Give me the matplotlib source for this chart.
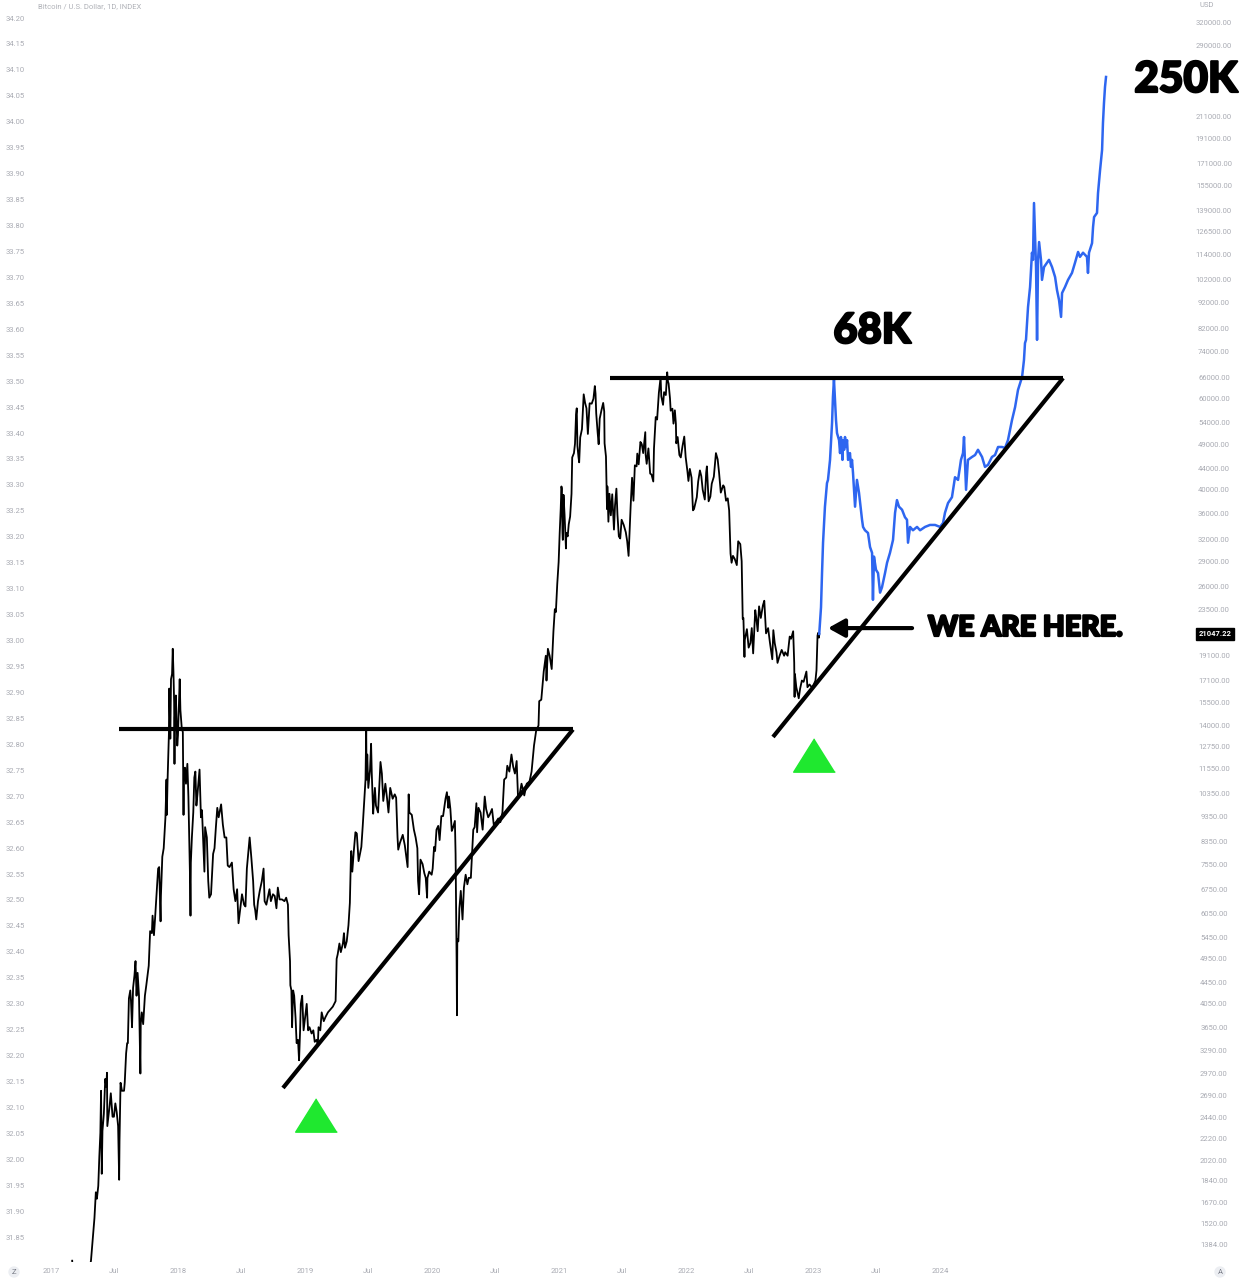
import matplotlib
matplotlib.use("Agg")
import matplotlib.pyplot as plt
import matplotlib.ticker as mticker
import matplotlib.patheffects as pe
import numpy as np
import pandas as pd

# ---------------- data ----------------
BTC_DATES = [
    "2017-03-03","2017-03-04","2017-03-10","2017-03-18","2017-03-25","2017-04-01","2017-04-15","2017-04-26",
    "2017-04-28","2017-05-03","2017-05-06","2017-05-10","2017-05-13","2017-05-17","2017-05-20","2017-05-23",
    "2017-05-25","2017-05-27","2017-05-29","2017-06-02","2017-06-06","2017-06-09","2017-06-11","2017-06-12",
    "2017-06-15","2017-06-18","2017-06-22","2017-06-27","2017-07-01","2017-07-05","2017-07-09","2017-07-13",
    "2017-07-16","2017-07-17","2017-07-20","2017-07-24","2017-07-30","2017-08-01","2017-08-05","2017-08-08",
    "2017-08-10","2017-08-13","2017-08-17","2017-08-19","2017-08-22","2017-08-25","2017-08-29","2017-09-01",
    "2017-09-04","2017-09-07","2017-09-11","2017-09-14","2017-09-15","2017-09-16","2017-09-19","2017-09-23",
    "2017-09-28","2017-10-02","2017-10-09","2017-10-12","2017-10-13","2017-10-18","2017-10-20","2017-10-24",
    "2017-10-27","2017-11-01","2017-11-05","2017-11-08","2017-11-12","2017-11-13","2017-11-17","2017-11-21",
    "2017-11-26","2017-11-29","2017-11-30","2017-12-02","2017-12-06","2017-12-07","2017-12-08","2017-12-10",
    "2017-12-12","2017-12-15","2017-12-17","2017-12-19","2017-12-21","2017-12-22","2017-12-23","2017-12-26",
    "2017-12-30",
    "2018-01-01","2018-01-06","2018-01-08","2018-01-10","2018-01-12","2018-01-15","2018-01-16","2018-01-17",
    "2018-01-18","2018-01-21","2018-01-24","2018-01-28","2018-01-31","2018-02-02","2018-02-05","2018-02-06",
    "2018-02-07","2018-02-10","2018-02-14","2018-02-17","2018-02-20","2018-02-23","2018-02-26","2018-03-04",
    "2018-03-08","2018-03-11","2018-03-15","2018-03-18","2018-03-20","2018-03-25","2018-03-29","2018-04-01",
    "2018-04-06","2018-04-12","2018-04-16","2018-04-20","2018-04-24","2018-04-28","2018-05-05","2018-05-10",
    "2018-05-15","2018-05-20","2018-05-24","2018-05-29","2018-06-05","2018-06-10","2018-06-15","2018-06-20",
    "2018-06-24","2018-06-29","2018-07-04","2018-07-10","2018-07-14","2018-07-18","2018-07-24","2018-07-26",
    "2018-07-31","2018-08-05","2018-08-08","2018-08-11","2018-08-14","2018-08-19","2018-08-24","2018-08-30",
    "2018-09-04","2018-09-07","2018-09-12","2018-09-16","2018-09-21","2018-09-25","2018-10-01","2018-10-06",
    "2018-10-11","2018-10-15","2018-10-20","2018-10-27","2018-11-03","2018-11-08","2018-11-13","2018-11-15",
    "2018-11-19","2018-11-20","2018-11-23","2018-11-25","2018-11-28","2018-12-01","2018-12-05","2018-12-08",
    "2018-12-12","2018-12-15","2018-12-18","2018-12-20","2018-12-24","2018-12-28",
    "2019-01-01","2019-01-06","2019-01-10","2019-01-14","2019-01-20","2019-01-25","2019-01-29","2019-02-03",
    "2019-02-07","2019-02-09","2019-02-14","2019-02-18","2019-02-24","2019-03-01","2019-03-08","2019-03-15",
    "2019-03-22","2019-03-30","2019-04-02","2019-04-05","2019-04-10","2019-04-14","2019-04-20","2019-04-23",
    "2019-04-26","2019-05-01","2019-05-06","2019-05-10","2019-05-13","2019-05-14","2019-05-17","2019-05-21",
    "2019-05-26","2019-05-30","2019-06-04","2019-06-08","2019-06-12","2019-06-16","2019-06-21","2019-06-24",
    "2019-06-26","2019-06-27","2019-06-29","2019-07-02","2019-07-07","2019-07-10","2019-07-12","2019-07-16",
    "2019-07-17","2019-07-21","2019-07-24","2019-07-30","2019-08-03","2019-08-06","2019-08-10","2019-08-14",
    "2019-08-20","2019-08-25","2019-08-29","2019-09-03","2019-09-10","2019-09-16","2019-09-20","2019-09-24",
    "2019-09-26","2019-10-01","2019-10-09","2019-10-15","2019-10-23","2019-10-26","2019-10-28","2019-11-04",
    "2019-11-10","2019-11-15","2019-11-20","2019-11-22","2019-11-25","2019-11-29","2019-12-05","2019-12-10",
    "2019-12-14","2019-12-18","2019-12-19","2019-12-24","2019-12-31",
    "2020-01-03","2020-01-07","2020-01-10","2020-01-14","2020-01-19","2020-01-23","2020-01-28","2020-02-02",
    "2020-02-09","2020-02-13","2020-02-17","2020-02-19","2020-02-23","2020-02-27","2020-03-02","2020-03-07",
    "2020-03-09","2020-03-12","2020-03-13","2020-03-14","2020-03-17","2020-03-20","2020-03-24","2020-03-29",
    "2020-04-02","2020-04-07","2020-04-12","2020-04-16","2020-04-22","2020-04-29","2020-05-03","2020-05-08",
    "2020-05-10","2020-05-14","2020-05-20","2020-05-26","2020-06-01","2020-06-05","2020-06-11","2020-06-15",
    "2020-06-22","2020-06-27","2020-07-03","2020-07-10","2020-07-16","2020-07-22","2020-07-27","2020-08-02",
    "2020-08-05","2020-08-11","2020-08-17","2020-08-22","2020-08-27","2020-09-01","2020-09-05","2020-09-09",
    "2020-09-15","2020-09-23","2020-09-30","2020-10-08","2020-10-14","2020-10-21","2020-10-27","2020-11-03",
    "2020-11-05","2020-11-11","2020-11-18","2020-11-24","2020-11-26","2020-11-30","2020-12-05","2020-12-11",
    "2020-12-16","2020-12-20","2020-12-23","2020-12-27","2020-12-31",
    "2021-01-03","2021-01-06","2021-01-08","2021-01-09","2021-01-11","2021-01-12","2021-01-14","2021-01-17",
    "2021-01-21","2021-01-22","2021-01-26","2021-01-29","2021-02-02","2021-02-06","2021-02-08","2021-02-13",
    "2021-02-16","2021-02-19","2021-02-21","2021-02-23","2021-02-26","2021-02-28","2021-03-03","2021-03-08",
    "2021-03-13","2021-03-17","2021-03-21","2021-03-25","2021-03-30","2021-04-05","2021-04-10","2021-04-14",
    "2021-04-16","2021-04-18","2021-04-22","2021-04-25","2021-04-28","2021-05-03","2021-05-08","2021-05-11",
    "2021-05-12","2021-05-16","2021-05-19","2021-05-20","2021-05-23","2021-05-26","2021-05-30","2021-06-03",
    "2021-06-08","2021-06-11","2021-06-15","2021-06-18","2021-06-22","2021-06-26","2021-06-30","2021-07-06",
    "2021-07-12","2021-07-16","2021-07-20","2021-07-22","2021-07-26","2021-07-30","2021-08-03","2021-08-07",
    "2021-08-12","2021-08-14","2021-08-18","2021-08-23","2021-08-27","2021-08-31","2021-09-06","2021-09-07",
    "2021-09-10","2021-09-15","2021-09-20","2021-09-24","2021-09-29","2021-10-01","2021-10-06","2021-10-10",
    "2021-10-15","2021-10-20","2021-10-22","2021-10-27","2021-10-30","2021-11-04","2021-11-08","2021-11-10",
    "2021-11-12","2021-11-16","2021-11-18","2021-11-23","2021-11-26","2021-11-30","2021-12-03","2021-12-04",
    "2021-12-08","2021-12-13","2021-12-17","2021-12-22","2021-12-27","2021-12-31",
    "2022-01-05","2022-01-08","2022-01-12","2022-01-17","2022-01-21","2022-01-24","2022-01-28","2022-02-01",
    "2022-02-05","2022-02-10","2022-02-14","2022-02-18","2022-02-24","2022-02-28","2022-03-02","2022-03-07",
    "2022-03-12","2022-03-16","2022-03-22","2022-03-28","2022-04-02","2022-04-06","2022-04-11","2022-04-18",
    "2022-04-21","2022-04-26","2022-05-01","2022-05-05","2022-05-09","2022-05-12","2022-05-16","2022-05-21",
    "2022-05-27","2022-05-31","2022-06-06","2022-06-10","2022-06-13","2022-06-15","2022-06-18","2022-06-19",
    "2022-06-25","2022-06-30","2022-07-05","2022-07-09","2022-07-13","2022-07-19","2022-07-22","2022-07-26",
    "2022-07-30","2022-08-04","2022-08-10","2022-08-14","2022-08-19","2022-08-25","2022-08-30","2022-09-06",
    "2022-09-09","2022-09-13","2022-09-18","2022-09-21","2022-09-27","2022-10-03","2022-10-10","2022-10-13",
    "2022-10-20","2022-10-26","2022-10-30","2022-11-05","2022-11-08","2022-11-09","2022-11-10","2022-11-14",
    "2022-11-21","2022-11-25","2022-11-30","2022-12-05","2022-12-13","2022-12-16","2022-12-22","2022-12-30",
    "2023-01-04","2023-01-08","2023-01-11","2023-01-13","2023-01-14","2023-01-16","2023-01-18","2023-01-19",
]
BTC_PRICES = [
    1290,1250,1190,970,930,1080,1180,1290,
    1340,1480,1560,1750,1700,1800,2050,2280,
    2750,1900,2300,2480,2900,2800,2980,2350,
    2450,2550,2720,2450,2450,2600,2500,2350,
    1850,2200,2850,2750,2750,2850,3250,3400,
    3400,4150,4300,4100,3650,4350,4600,4900,
    4200,4650,4200,3250,2970,3700,3900,3700,
    4200,4400,4800,5400,5600,5550,6000,5500,
    5900,6700,7400,7450,5850,6550,7800,8100,
    9300,11000,9400,10900,13500,16500,15500,13200,
    17200,17600,19700,17800,15500,11800,14500,16000,
    12800,
    13400,17200,15000,14400,13800,13600,11100,9400,
    11300,11600,10800,11800,10200,8700,6900,6000,
    7600,8500,9500,11100,11400,9800,10300,11500,
    9300,9600,8200,7300,8900,8500,7000,6500,
    6600,7900,8100,8900,9700,9300,9850,9000,
    8500,8500,7500,7450,7600,6750,6400,6750,
    5800,6200,6600,6300,6250,7400,8200,8500,
    7750,7000,6300,6150,5900,6400,6700,7000,
    7400,6400,6300,6500,6750,6400,6600,6550,
    6200,6800,6450,6450,6400,6500,6300,5500,
    4900,4400,4300,3650,4300,4200,3800,3400,
    3450,3150,3600,4050,4200,3600,
    3800,4050,3600,3650,3550,3600,3420,3450,
    3380,3650,3600,3900,3750,3820,3900,3950,
    4000,4100,4950,5050,5300,5100,5300,5550,
    5200,5350,5750,6350,7800,8000,7300,7950,
    8700,8650,7650,7900,8150,8950,10200,11000,
    13800,11000,12300,10600,11500,12900,11300,9450,
    9700,10600,9800,9500,10800,11900,11300,10000,
    10800,10100,9500,10600,10100,10300,10150,8500,
    8050,8300,8600,8200,7450,10300,9500,9400,
    8800,8500,8100,7000,6600,7700,7550,7250,
    7100,6500,7100,7300,7200,
    7400,8150,8000,8800,8950,8400,9350,9350,
    10100,10400,9700,10200,9650,8750,8900,9150,
    7900,4900,3850,5400,5350,6200,6700,5900,
    6800,7200,6900,7100,7100,8800,8900,9900,
    8700,9700,9500,8800,10200,9650,9300,9400,
    9650,9000,9100,9250,9100,9500,11000,11100,
    11700,11400,12300,11650,11300,11950,10150,10250,
    10800,10250,10800,10900,11400,12800,13650,14000,
    15600,15700,17800,19100,17100,19700,19100,18000,
    21300,23500,23200,26300,29000,
    33000,36800,40600,40200,33000,32000,39100,35800,
    30800,33000,32500,34300,35500,39300,46200,47100,
    49100,55900,57500,48600,46300,45200,50500,52400,
    61200,58900,57500,51300,58800,58700,60000,63500,
    61400,56200,51700,49000,54900,57000,58900,56700,
    49200,46400,36700,40600,34700,39300,35700,39200,
    33500,37300,40200,35800,32500,32200,35000,34200,
    33100,31800,29800,32100,37300,42200,38100,44600,
    44400,47000,44800,49500,49000,47100,51700,46800,
    44900,48100,43000,42800,41500,48100,55300,54700,
    61600,66000,60700,58400,61800,61000,67500,64900,
    64200,60100,56900,57400,53700,57000,53600,49200,
    50600,46700,46200,48600,50700,46300,
    43500,41600,43900,42200,36500,36700,37700,38700,
    41500,43600,42500,40000,38300,43200,44400,38000,
    38800,41100,42400,47100,45800,43200,39500,40800,
    40500,38100,38500,36500,30100,28900,29800,29400,
    28600,31800,31400,29100,22500,22600,19000,20500,
    21500,19800,20200,21600,19300,23400,22600,21300,
    23800,22600,23900,24400,21100,21600,20300,18800,
    21400,20200,19400,18500,19100,19600,19100,19400,
    19100,20800,20600,21300,18500,15900,17600,16600,
    15800,16500,17100,17000,17800,16600,16800,16550,
    16850,17100,17900,19900,20900,21150,20700,21047.22,
]

# projected path (decimal years, USD)
PROJ_T = [
    2023.049,2023.063,2023.071,2023.079,2023.094,2023.110,2023.118,2023.134,2023.150,2023.157,
    2023.165,2023.181,2023.189,2023.205,2023.213,2023.220,2023.228,2023.232,2023.236,2023.245,
    2023.252,2023.260,2023.268,2023.276,2023.291,2023.299,
    2023.307,2023.315,2023.331,2023.346,2023.362,2023.386,2023.394,2023.409,2023.433,2023.449,
    2023.465,2023.472,2023.480,2023.496,2023.512,2023.528,2023.543,2023.567,2023.583,2023.606,
    2023.630,2023.646,2023.661,2023.677,2023.701,2023.724,2023.740,2023.748,2023.764,2023.787,
    2023.819,2023.843,2023.882,2023.921,2023.961,2024.000,2024.024,2024.039,2024.063,2024.094,
    2024.118,2024.142,2024.165,2024.181,2024.189,2024.205,2024.220,2024.252,2024.276,2024.299,
    2024.331,2024.354,2024.378,2024.409,2024.433,2024.457,2024.488,2024.512,2024.535,2024.567,
    2024.591,2024.614,2024.646,2024.661,2024.669,2024.677,2024.693,2024.709,2024.724,2024.732,
    2024.740,2024.756,2024.764,2024.772,2024.780,2024.795,2024.803,2024.819,2024.843,2024.858,
    2024.882,2024.906,2024.921,2024.937,2024.953,2024.961,2024.984,2025.008,2025.039,2025.063,
    2025.087,2025.102,2025.126,2025.157,2025.165,2025.173,2025.197,2025.205,2025.213,2025.236,
    2025.244,2025.260,2025.276,2025.283,2025.291,2025.299,2025.307,
]
PROJ_P = [
    21047,23700,27600,31600,37100,41200,41800,45700,53900,60500,
    65400,54600,51500,49900,47100,50600,48400,45700,49900,47800,
    50600,48400,49900,45700,47100,44300,
    45700,43100,37100,41800,39500,35000,33900,33400,33000,31000,
    30200,24500,29700,28000,27600,25300,25900,27600,28900,30200,
    32000,36100,38200,37100,36600,35400,35000,31600,33900,33400,
    33900,33400,33900,34200,34200,33900,34500,36100,37700,38700,
    42300,41800,45700,47100,50600,40000,45700,46300,46700,47800,
    46300,44300,44700,46300,46700,48400,48400,48200,49900,54600,
    57800,62400,66100,71300,76900,78000,90300,98700,115000,111400,
    143500,107900,78000,111400,120600,111400,101900,107900,110000,111400,
    107900,103200,97400,93200,86400,96100,98700,101900,105100,110000,
    115400,112900,115000,112900,105100,115000,120000,129000,134800,137300,
    150000,166000,181800,205000,224000,240600,251600,
]

X_TICK_DATES = ["2017-01-01","2017-07-01","2018-01-01","2018-07-01","2019-01-01","2019-07-01",
                "2020-01-01","2020-07-01","2021-01-01","2021-07-01","2022-01-01","2022-07-01",
                "2023-01-01","2023-07-01","2024-01-01"]
X_TICK_LABELS = ["2017","Jul","2018","Jul","2019","Jul","2020","Jul","2021","Jul","2022","Jul",
                 "2023","Jul","2024"]
PRICE_TICKS = [320000,290000,211000,191000,171000,155000,139000,126500,114000,102000,92000,82000,
               74000,66000,60000,54000,49000,44000,40000,36000,32000,29000,26000,23500,19100,17100,
               15500,14000,12750,11550,10350,9350,8350,7550,6750,6050,5450,4950,4450,4050,3650,
               3290,2970,2690,2440,2220,2020,1840,1670,1520,1384]
LEFT_TICKS = [round(31.85 + 0.05 * i, 2) for i in range(48)]
LAST_PRICE = 21047.22

# trend lines (decimal year, price)
RES1 = ([2017.535, 2021.110], [13750, 13750])
SUP1 = ([2018.827, 2021.110], [2785, 13750])
RES2 = ([2021.402, 2024.969], [65800, 65800])
SUP2 = ([2022.685, 2024.969], [13300, 65800])


def dec_year(s):
    ts = pd.Timestamp(s)
    days = 366 if ts.is_leap_year else 365
    return ts.year + (ts.dayofyear - 1) / days


W, H = 1246, 1280
fig = plt.figure(figsize=(W / 100, H / 100), dpi=100)
fig.patch.set_facecolor("white")
ax = fig.add_axes([30 / W, 18 / H, 1162 / W, 1262 / H])

# left scale (twin, created first so it does not move the main ticks)
ax2 = ax.twinx()

ax.set_yscale("log")
ax.set_xlim(2016.835, 2025.984)
ax.set_ylim(1282.6, 354500)
for s in ax.spines.values():
    s.set_visible(False)

GRAY = "#a9abb3"
TICKFONT = "Roboto"

bt = [dec_year(d) for d in BTC_DATES]
ax.plot(bt, BTC_PRICES, color="black", lw=1.3, zorder=3)
ax.plot(PROJ_T, PROJ_P, color="#2e66f0", lw=1.8, zorder=3)

for xs, ys in (RES1, SUP1, RES2, SUP2):
    ax.plot(xs, ys, color="black", lw=3.0, solid_capstyle="butt", zorder=4)

tri = [(0, 0.8), (-1, -0.8), (1, -0.8)]
ax.plot([2019.087], [2471], marker=tri, markersize=30, color="#1fe82f", ls="none", zorder=5)
ax.plot([2023.008], [12300], marker=tri, markersize=30, color="#1fe82f", ls="none", zorder=5)

ax.annotate("", xy=(2023.118, 21600), xytext=(2023.780, 21600),
            arrowprops=dict(arrowstyle="-|>,head_length=0.45,head_width=0.25",
                            lw=3, color="black", mutation_scale=22, shrinkA=0, shrinkB=0),
            zorder=6)

# x ticks
ax.set_xticks([dec_year(d) for d in X_TICK_DATES])
ax.set_xticklabels(X_TICK_LABELS, fontfamily=TICKFONT)
ax.tick_params(axis="x", length=0, pad=4.3, labelsize=5.5, labelcolor=GRAY)

# right price axis
ax.yaxis.set_major_locator(mticker.FixedLocator(PRICE_TICKS))
ax.yaxis.set_minor_locator(mticker.NullLocator())
ax.yaxis.set_major_formatter(mticker.FixedFormatter([f"{v:.2f}" for v in PRICE_TICKS]))
ax.yaxis.tick_right()
ax.tick_params(axis="y", which="both", length=0, pad=15.8, labelsize=5.5, labelcolor=GRAY,
               left=False, labelleft=False, right=False, labelright=True)
for t in ax.yaxis.get_major_ticks():
    t.label2.set_horizontalalignment("center")
    t.label2.set_fontfamily(TICKFONT)

ax2.set_ylim(31.8022, 34.2347)
ax2.yaxis.tick_left()
ax2.set_yticks(LEFT_TICKS)
ax2.set_yticklabels([f"{v:.2f}" for v in LEFT_TICKS], fontfamily=TICKFONT)
ax2.tick_params(axis="y", length=0, pad=3.6, labelsize=5.5, labelcolor=GRAY,
                right=False, labelright=False, left=False, labelleft=True)
for s in ax2.spines.values():
    s.set_visible(False)
ax2.patch.set_visible(False)
ax2.set_zorder(ax.get_zorder() - 1)
ax.patch.set_visible(False)

# last price label
ax.text(1.0198, LAST_PRICE, f"{LAST_PRICE:.2f}", transform=ax.get_yaxis_transform(),
        ha="center", va="center", fontsize=5.5, color="white", family=TICKFONT, fontweight="bold",
        bbox=dict(boxstyle="square,pad=0.35", fc="black", ec="black"), zorder=10, clip_on=False)

# annotations
stroke = [pe.withStroke(linewidth=1.6, foreground="black")]
BIG = dict(family="Lato", fontweight="black", color="black", path_effects=stroke)
fig.text(1186 / W, 1 - 80 / H, "250K", ha="center", va="center", fontsize=30.5, **BIG)
fig.text(872 / W, 1 - 331 / H, "68K", ha="center", va="center", fontsize=30, **BIG)
fig.text(928 / W, 1 - 628 / H, "WE ARE HERE.", ha="left", va="center", fontsize=20.5, **BIG)

fig.text(38 / W, 1 - 6 / H, "Bitcoin / U.S. Dollar, 1D, INDEX", ha="left", va="center",
         fontsize=5.5, color="#b0b2b8", family=TICKFONT)
fig.text(1200 / W, 1 - 5 / H, "USD", ha="left", va="center", fontsize=5.5, color=GRAY, family=TICKFONT)
for xp, t in ((14, "Z"), (1220, "A")):
    fig.text(xp / W, 1 - 1272 / H, t, ha="center", va="center", fontsize=5.5, color="#787b86",
             family=TICKFONT, bbox=dict(boxstyle="circle,pad=0.35", fc="#eceef2", ec="none"))

fig.savefig("out.png", dpi=100, facecolor="white")
